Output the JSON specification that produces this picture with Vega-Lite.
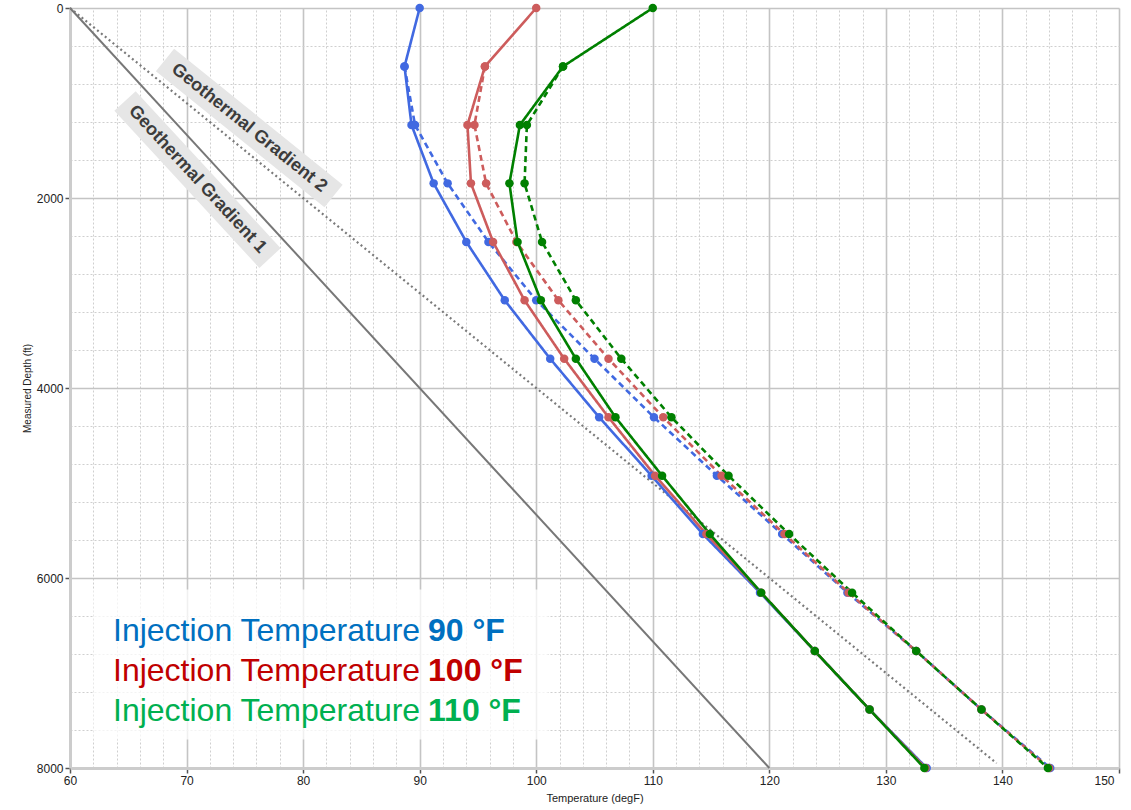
{
  "$schema": "https://vega.github.io/schema/vega-lite/v6.json",
  "width": 1049,
  "height": 760,
  "autosize": "none",
  "padding": {"left": 70, "top": 8, "right": 12, "bottom": 42},
  "background": "#ffffff",
  "config": {"view": {"stroke": null}, "font": "Liberation Sans"},
  "resolve": {"scale": {"color": "independent"}},
  "datasets": {
    "profiles": [
      {"inj": "90", "kind": "solid", "depth": 0, "temp": 90.0},
      {"inj": "90", "kind": "solid", "depth": 615, "temp": 88.7},
      {"inj": "90", "kind": "solid", "depth": 1231, "temp": 89.3},
      {"inj": "90", "kind": "solid", "depth": 1846, "temp": 91.2},
      {"inj": "90", "kind": "solid", "depth": 2462, "temp": 94.0},
      {"inj": "90", "kind": "solid", "depth": 3077, "temp": 97.3},
      {"inj": "90", "kind": "solid", "depth": 3692, "temp": 101.2},
      {"inj": "90", "kind": "solid", "depth": 4308, "temp": 105.4},
      {"inj": "90", "kind": "solid", "depth": 4923, "temp": 109.9},
      {"inj": "90", "kind": "solid", "depth": 5538, "temp": 114.3},
      {"inj": "90", "kind": "solid", "depth": 6154, "temp": 119.2},
      {"inj": "90", "kind": "solid", "depth": 6769, "temp": 123.9},
      {"inj": "90", "kind": "solid", "depth": 7385, "temp": 128.6},
      {"inj": "90", "kind": "solid", "depth": 8000, "temp": 133.5},
      {"inj": "90", "kind": "dashed", "depth": 615, "temp": 88.7},
      {"inj": "90", "kind": "dashed", "depth": 1231, "temp": 89.6},
      {"inj": "90", "kind": "dashed", "depth": 1846, "temp": 92.4},
      {"inj": "90", "kind": "dashed", "depth": 2462, "temp": 95.9},
      {"inj": "90", "kind": "dashed", "depth": 3077, "temp": 100.0},
      {"inj": "90", "kind": "dashed", "depth": 3692, "temp": 105.0},
      {"inj": "90", "kind": "dashed", "depth": 4308, "temp": 110.1},
      {"inj": "90", "kind": "dashed", "depth": 4923, "temp": 115.5},
      {"inj": "90", "kind": "dashed", "depth": 5538, "temp": 121.1},
      {"inj": "90", "kind": "dashed", "depth": 6154, "temp": 126.7},
      {"inj": "90", "kind": "dashed", "depth": 6769, "temp": 132.6},
      {"inj": "90", "kind": "dashed", "depth": 7385, "temp": 138.2},
      {"inj": "90", "kind": "dashed", "depth": 8000, "temp": 144.1},
      {"inj": "100", "kind": "solid", "depth": 0, "temp": 100.0},
      {"inj": "100", "kind": "solid", "depth": 615, "temp": 95.6},
      {"inj": "100", "kind": "solid", "depth": 1231, "temp": 94.1},
      {"inj": "100", "kind": "solid", "depth": 1846, "temp": 94.4},
      {"inj": "100", "kind": "solid", "depth": 2462, "temp": 96.3},
      {"inj": "100", "kind": "solid", "depth": 3077, "temp": 99.0},
      {"inj": "100", "kind": "solid", "depth": 3692, "temp": 102.4},
      {"inj": "100", "kind": "solid", "depth": 4308, "temp": 106.2},
      {"inj": "100", "kind": "solid", "depth": 4923, "temp": 110.2},
      {"inj": "100", "kind": "solid", "depth": 5538, "temp": 114.6},
      {"inj": "100", "kind": "solid", "depth": 6154, "temp": 119.3},
      {"inj": "100", "kind": "solid", "depth": 6769, "temp": 123.9},
      {"inj": "100", "kind": "solid", "depth": 7385, "temp": 128.6},
      {"inj": "100", "kind": "solid", "depth": 8000, "temp": 133.4},
      {"inj": "100", "kind": "dashed", "depth": 615, "temp": 95.6},
      {"inj": "100", "kind": "dashed", "depth": 1231, "temp": 94.7},
      {"inj": "100", "kind": "dashed", "depth": 1846, "temp": 95.7},
      {"inj": "100", "kind": "dashed", "depth": 2462, "temp": 98.3},
      {"inj": "100", "kind": "dashed", "depth": 3077, "temp": 101.9},
      {"inj": "100", "kind": "dashed", "depth": 3692, "temp": 106.2},
      {"inj": "100", "kind": "dashed", "depth": 4308, "temp": 110.9},
      {"inj": "100", "kind": "dashed", "depth": 4923, "temp": 115.9},
      {"inj": "100", "kind": "dashed", "depth": 5538, "temp": 121.3},
      {"inj": "100", "kind": "dashed", "depth": 6154, "temp": 126.8},
      {"inj": "100", "kind": "dashed", "depth": 6769, "temp": 132.6},
      {"inj": "100", "kind": "dashed", "depth": 7385, "temp": 138.2},
      {"inj": "100", "kind": "dashed", "depth": 8000, "temp": 144.0},
      {"inj": "110", "kind": "solid", "depth": 0, "temp": 110.0},
      {"inj": "110", "kind": "solid", "depth": 615, "temp": 102.3},
      {"inj": "110", "kind": "solid", "depth": 1231, "temp": 98.6},
      {"inj": "110", "kind": "solid", "depth": 1846, "temp": 97.7},
      {"inj": "110", "kind": "solid", "depth": 2462, "temp": 98.4},
      {"inj": "110", "kind": "solid", "depth": 3077, "temp": 100.4},
      {"inj": "110", "kind": "solid", "depth": 3692, "temp": 103.4},
      {"inj": "110", "kind": "solid", "depth": 4308, "temp": 106.8},
      {"inj": "110", "kind": "solid", "depth": 4923, "temp": 110.8},
      {"inj": "110", "kind": "solid", "depth": 5538, "temp": 114.9},
      {"inj": "110", "kind": "solid", "depth": 6154, "temp": 119.3},
      {"inj": "110", "kind": "solid", "depth": 6769, "temp": 123.9},
      {"inj": "110", "kind": "solid", "depth": 7385, "temp": 128.6},
      {"inj": "110", "kind": "solid", "depth": 8000, "temp": 133.3},
      {"inj": "110", "kind": "dashed", "depth": 615, "temp": 102.3},
      {"inj": "110", "kind": "dashed", "depth": 1231, "temp": 99.2},
      {"inj": "110", "kind": "dashed", "depth": 1846, "temp": 99.0},
      {"inj": "110", "kind": "dashed", "depth": 2462, "temp": 100.5},
      {"inj": "110", "kind": "dashed", "depth": 3077, "temp": 103.4},
      {"inj": "110", "kind": "dashed", "depth": 3692, "temp": 107.3},
      {"inj": "110", "kind": "dashed", "depth": 4308, "temp": 111.6},
      {"inj": "110", "kind": "dashed", "depth": 4923, "temp": 116.5},
      {"inj": "110", "kind": "dashed", "depth": 5538, "temp": 121.7},
      {"inj": "110", "kind": "dashed", "depth": 6154, "temp": 127.1},
      {"inj": "110", "kind": "dashed", "depth": 6769, "temp": 132.6},
      {"inj": "110", "kind": "dashed", "depth": 7385, "temp": 138.2},
      {"inj": "110", "kind": "dashed", "depth": 8000, "temp": 143.9}
    ],
    "gradients": [
      {"name": "Geothermal Gradient 1", "depth": 0, "temp": 60},
      {"name": "Geothermal Gradient 1", "depth": 8000, "temp": 120},
      {"name": "Geothermal Gradient 2", "depth": 0, "temp": 60},
      {"name": "Geothermal Gradient 2", "depth": 7950, "temp": 139.5}
    ],
    "labelBands": [
      {"name": "Geothermal Gradient 1", "depth": 979, "temp": 64.72},
      {"name": "Geothermal Gradient 1", "depth": 2632, "temp": 77.16},
      {"name": "Geothermal Gradient 2", "depth": 547, "temp": 68.15},
      {"name": "Geothermal Gradient 2", "depth": 1979, "temp": 82.61}
    ],
    "gradientLabels": [
      {"name": "Geothermal Gradient 1", "depth": 1805, "temp": 70.94, "tilt": 47.3},
      {"name": "Geothermal Gradient 2", "depth": 1263, "temp": 75.38, "tilt": 38.9}
    ],
    "legendBox": [
      {"temp": 62, "temp2": 101, "depth": 6120, "depth2": 7700}
    ],
    "legendRows": [
      {"inj": "90", "lead": "Injection Temperature", "val": "90 °F", "depth": 6663},
      {"inj": "100", "lead": "Injection Temperature", "val": "100 °F", "depth": 7084},
      {"inj": "110", "lead": "Injection Temperature", "val": "110 °F", "depth": 7505}
    ]
  },
  "layer": [
    {
      "data": {"name": "legendBox"},
      "mark": {"type": "rect", "color": "#ffffff", "opacity": 0.75},
      "encoding": {
        "x": {
          "field": "temp",
          "type": "quantitative",
          "scale": {"domain": [60, 150], "nice": false, "zero": false},
          "axis": {
            "title": "Temperature (degF)",
            "titleFontSize": 11,
            "titleFontWeight": "normal",
            "titleColor": "#222222",
            "titlePadding": 6,
            "tickCount": 200,
            "values": [60,62,64,66,68,70,72,74,76,78,80,82,84,86,88,90,92,94,96,98,100,102,104,106,108,110,112,114,116,118,120,122,124,126,128,130,132,134,136,138,140,142,144,146,148,150],
            "format": "d",
            "labelExpr": "datum.value % 10 === 0 ? datum.label : ''",
            "labelOverlap": false,
            "labelFontSize": 12,
            "labelColor": "#222222",
            "labelPadding": 2,
            "labelAlign": {"condition": {"test": "datum.value === 150", "value": "right"}, "value": "center"},
            "labelOffset": {"condition": {"test": "datum.value === 150", "value": -5}, "value": 0},
            "grid": true,
            "gridColor": {"condition": {"test": "datum.value % 10 === 0", "value": "#c4c4c4"}, "value": "#cfcfcf"},
            "gridDash": {"condition": {"test": "datum.value % 10 === 0", "value": []}, "value": [2, 2]},
            "gridWidth": {"condition": {"test": "datum.value % 10 === 0", "value": 1.6}, "value": 1},
            "tickOpacity": {"condition": {"test": "datum.value % 10 === 0", "value": 1}, "value": 0},
            "tickColor": "#555555",
            "tickSize": 5,
            "tickWidth": 1.5,
            "domainColor": "#cccccc",
            "domainWidth": 3
          }
        },
        "x2": {"field": "temp2"},
        "y": {
          "field": "depth",
          "type": "quantitative",
          "scale": {"domain": [0, 8000], "nice": false, "zero": false, "reverse": true},
          "axis": {
            "title": "Measured Depth (ft)",
            "titleFontSize": 10,
            "titleFontWeight": "normal",
            "titleColor": "#222222",
            "titlePadding": 4,
            "tickCount": 200,
            "values": [0,400,800,1200,1600,2000,2400,2800,3200,3600,4000,4400,4800,5200,5600,6000,6400,6800,7200,7600,8000],
            "format": "d",
            "labelExpr": "datum.value % 2000 === 0 ? datum.label : ''",
            "labelOverlap": false,
            "labelFontSize": 12,
            "labelColor": "#222222",
            "labelPadding": 2,
            "grid": true,
            "gridColor": {"condition": {"test": "datum.value % 2000 === 0", "value": "#c4c4c4"}, "value": "#cfcfcf"},
            "gridDash": {"condition": {"test": "datum.value % 2000 === 0", "value": []}, "value": [2, 2]},
            "gridWidth": {"condition": {"test": "datum.value % 2000 === 0", "value": 1.6}, "value": 1},
            "tickOpacity": {"condition": {"test": "datum.value % 2000 === 0", "value": 1}, "value": 0},
            "tickColor": "#555555",
            "tickSize": 5,
            "tickWidth": 1.5,
            "domainColor": "#cccccc",
            "domainWidth": 3
          }
        },
        "y2": {"field": "depth2"}
      }
    },
    {
      "data": {"name": "labelBands"},
      "mark": {"type": "line", "color": "#e6e6e6", "strokeWidth": 29, "strokeCap": "butt"},
      "encoding": {
        "x": {"field": "temp", "type": "quantitative"},
        "y": {"field": "depth", "type": "quantitative"},
        "detail": {"field": "name"},
        "order": {"field": "depth"}
      }
    },
    {
      "data": {"name": "gradients"},
      "transform": [{"filter": "datum.name === 'Geothermal Gradient 1'"}],
      "mark": {"type": "line", "color": "#777777", "strokeWidth": 2},
      "encoding": {
        "x": {"field": "temp", "type": "quantitative"},
        "y": {"field": "depth", "type": "quantitative"},
        "order": {"field": "depth"}
      }
    },
    {
      "data": {"name": "gradients"},
      "transform": [{"filter": "datum.name === 'Geothermal Gradient 2'"}],
      "mark": {"type": "line", "color": "#7a7a7a", "strokeWidth": 2.2, "strokeDash": [2, 3]},
      "encoding": {
        "x": {"field": "temp", "type": "quantitative"},
        "y": {"field": "depth", "type": "quantitative"},
        "order": {"field": "depth"}
      }
    },
    {
      "data": {"name": "gradientLabels"},
      "mark": {"type": "text", "font": "Liberation Sans", "fontSize": 18, "fontWeight": "bold", "color": "#3c3c3c", "align": "center", "baseline": "middle"},
      "encoding": {
        "x": {"field": "temp", "type": "quantitative"},
        "y": {"field": "depth", "type": "quantitative"},
        "text": {"field": "name"},
        "angle": {"field": "tilt", "type": "quantitative", "scale": null}
      }
    },
    {
      "data": {"name": "profiles"},
      "mark": {"type": "line", "strokeWidth": 2.6},
      "encoding": {
        "x": {"field": "temp", "type": "quantitative"},
        "y": {"field": "depth", "type": "quantitative"},
        "color": {"field": "inj", "type": "nominal", "scale": {"domain": ["90", "100", "110"], "range": ["#4169e1", "#cd5c5c", "#008000"]}, "legend": null},
        "strokeDash": {"field": "kind", "type": "nominal", "scale": {"domain": ["solid", "dashed"], "range": [[1, 0], [6, 4]]}, "legend": null},
        "order": {"field": "depth"}
      }
    },
    {
      "data": {"name": "profiles"},
      "mark": {"type": "point", "filled": true, "opacity": 1, "size": 72},
      "encoding": {
        "x": {"field": "temp", "type": "quantitative"},
        "y": {"field": "depth", "type": "quantitative"},
        "color": {"field": "inj", "type": "nominal", "scale": {"domain": ["90", "100", "110"], "range": ["#4169e1", "#cd5c5c", "#008000"]}, "legend": null}
      }
    },
    {
      "data": {"name": "legendRows"},
      "mark": {"type": "text", "font": "Liberation Sans", "fontSize": 32, "align": "left", "baseline": "alphabetic"},
      "encoding": {
        "x": {"datum": 63.69, "type": "quantitative"},
        "y": {"field": "depth", "type": "quantitative"},
        "text": {"field": "lead"},
        "color": {"field": "inj", "type": "nominal", "scale": {"domain": ["90", "100", "110"], "range": ["#0070c0", "#c00000", "#00b050"]}, "legend": null}
      }
    },
    {
      "data": {"name": "legendRows"},
      "mark": {"type": "text", "font": "Liberation Sans", "fontSize": 32, "fontWeight": "bold", "align": "left", "baseline": "alphabetic"},
      "encoding": {
        "x": {"datum": 90.72, "type": "quantitative"},
        "y": {"field": "depth", "type": "quantitative"},
        "text": {"field": "val"},
        "color": {"field": "inj", "type": "nominal", "scale": {"domain": ["90", "100", "110"], "range": ["#0070c0", "#c00000", "#00b050"]}, "legend": null}
      }
    }
  ]
}
